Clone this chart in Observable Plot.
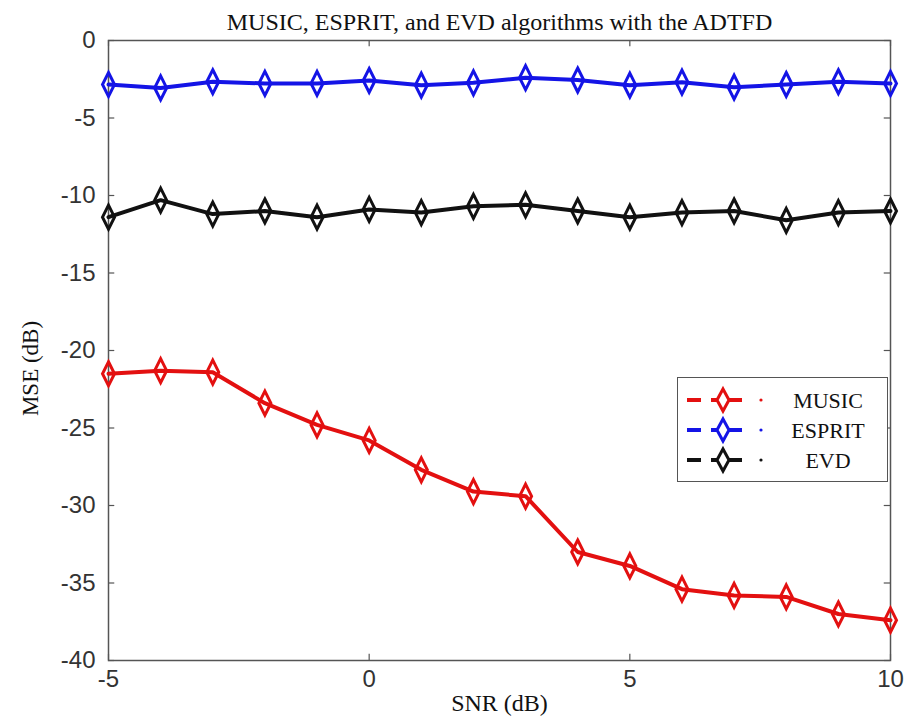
<!DOCTYPE html>
<html>
<head>
<meta charset="utf-8">
<script src="https://cdn.jsdelivr.net/npm/d3@7"></script>
<script src="https://cdn.jsdelivr.net/npm/@observablehq/plot@0.6"></script>
<style>
  html, body { margin: 0; padding: 0; background: #fff; }
  #wrap { position: relative; width: 910px; height: 724px; }
  #legend { position: absolute; background: #fff; border: 1.5px solid #555; box-sizing: border-box; }
</style>
</head>
<body>
<div id="wrap"></div>
<script>
// ---- data ----
const snr = [-5, -4, -3, -2, -1, 0, 1, 2, 3, 4, 5, 6, 7, 8, 9, 10];
const music  = [-21.5, -21.3, -21.4, -23.4, -24.8, -25.8, -27.7, -29.1, -29.4, -33.0, -33.9, -35.4, -35.8, -35.9, -37.0, -37.4];
const esprit = [-2.84, -3.06, -2.66, -2.77, -2.77, -2.58, -2.88, -2.73, -2.40, -2.55, -2.88, -2.69, -3.01, -2.84, -2.66, -2.77];
const evd    = [-11.4, -10.3, -11.2, -11.0, -11.4, -10.9, -11.1, -10.7, -10.6, -11.0, -11.4, -11.1, -11.0, -11.6, -11.1, -11.0];
const seriesNames = ["MUSIC", "ESPRIT", "EVD"];
const seriesColors = ["#e31010", "#1414e6", "#111111"];
const xTicks = [-5, 0, 5, 10];
const yTicks = [0, -5, -10, -15, -20, -25, -30, -35, -40];
const titleText = "MUSIC, ESPRIT, and EVD algorithms with the ADTFD";
const xLabel = "SNR (dB)";
const yLabel = "MSE (dB)";

const table = [];
[music, esprit, evd].forEach((vals, i) =>
  vals.forEach((v, j) => table.push({series: seriesNames[i], snr: snr[j], mse: v})));

// tall diamond symbol
const tallDiamond = {
  draw(ctx) {
    const w = 6, h = 12;
    ctx.moveTo(0, -h); ctx.lineTo(w, 0); ctx.lineTo(0, h); ctx.lineTo(-w, 0); ctx.closePath();
  }
};

const serif = "'Liberation Serif', 'DejaVu Serif', serif";
const sans = "'Liberation Sans', Arial, sans-serif";
const xd = [xTicks[0], xTicks[xTicks.length - 1]];
const yd = [yTicks[yTicks.length - 1], yTicks[0]];
const tx = (xd[1] - xd[0]) * 0.008, ty = (yd[1] - yd[0]) * 0.01;
const fmt = d => String(d);

const chart = Plot.plot({
  width: 910, height: 724,
  marginTop: 40, marginLeft: 108, marginRight: 20, marginBottom: 64,
  style: {background: "#fff", overflow: "visible"},
  x: {domain: xd, ticks: xTicks},
  y: {domain: yd, ticks: yTicks},
  color: {domain: seriesNames, range: seriesColors},
  marks: [
    Plot.axisX({ticks: xTicks, tickFormat: fmt, tickSize: 0, tickPadding: 9, fontSize: 24, fontFamily: sans, fill: "#333", label: null}),
    Plot.axisY({ticks: yTicks, tickFormat: fmt, tickSize: 0, tickPadding: 13, fontSize: 24, fontFamily: sans, fill: "#333", label: null}),
    Plot.ruleX(xTicks, {x: d => d, y1: yd[0], y2: yd[0] + ty, stroke: "#555", strokeWidth: 1.2}),
    Plot.ruleX(xTicks, {x: d => d, y1: yd[1], y2: yd[1] - ty, stroke: "#555", strokeWidth: 1.2}),
    Plot.ruleY(yTicks, {y: d => d, x1: xd[0], x2: xd[0] + tx, stroke: "#555", strokeWidth: 1.2}),
    Plot.ruleY(yTicks, {y: d => d, x1: xd[1], x2: xd[1] - tx, stroke: "#555", strokeWidth: 1.2}),
    Plot.frame({stroke: "#555", strokeWidth: 1.5}),
    Plot.line(table, {x: "snr", y: "mse", stroke: "series", z: "series", strokeWidth: 4}),
    Plot.dot(table, {x: "snr", y: "mse", stroke: "series", symbol: tallDiamond, strokeWidth: 3, fill: "none"}),
    Plot.text([titleText], {frameAnchor: "top", textAnchor: "middle", dy: -28, fontFamily: serif, fontSize: 24, fill: "#111"}),
    Plot.text([xLabel], {frameAnchor: "bottom", textAnchor: "middle", dy: 50, fontFamily: serif, fontSize: 24, fill: "#111"}),
    Plot.text([yLabel], {frameAnchor: "left", textAnchor: "middle", dx: -78, dy: 18, rotate: -90, fontFamily: serif, fontSize: 23, fill: "#111"})
  ]
});
const wrap = document.getElementById("wrap");
wrap.appendChild(chart);

// legend
const legend = document.createElement("div");
legend.id = "legend";
legend.style.left = "677px"; legend.style.top = "377px";
legend.style.width = "211px"; legend.style.height = "105px";
const ns = "http://www.w3.org/2000/svg";
const lsvg = document.createElementNS(ns, "svg");
lsvg.setAttribute("width", 208); lsvg.setAttribute("height", 102);
seriesNames.forEach((name, i) => {
  const cy = 22 + i * 30, col = seriesColors[i];
  const ln = document.createElementNS(ns, "line");
  ln.setAttribute("x1", 9); ln.setAttribute("x2", 64); ln.setAttribute("y1", cy); ln.setAttribute("y2", cy);
  ln.setAttribute("stroke", col); ln.setAttribute("stroke-width", 4); ln.setAttribute("stroke-dasharray", "14 10 40");
  lsvg.appendChild(ln);
  const dm = document.createElementNS(ns, "path");
  dm.setAttribute("d", `M45,${cy-11}L51,${cy}L45,${cy+11}L39,${cy}Z`);
  dm.setAttribute("stroke", col); dm.setAttribute("stroke-width", 3); dm.setAttribute("fill", "#fff");
  lsvg.appendChild(dm);
  const dt = document.createElementNS(ns, "circle");
  dt.setAttribute("cx", 83); dt.setAttribute("cy", cy); dt.setAttribute("r", 1.6); dt.setAttribute("fill", col);
  lsvg.appendChild(dt);
  const t = document.createElementNS(ns, "text");
  t.setAttribute("x", 150); t.setAttribute("y", cy); t.setAttribute("dy", "0.35em");
  t.setAttribute("text-anchor", "middle"); t.setAttribute("font-family", serif); t.setAttribute("font-size", 22);
  t.setAttribute("fill", "#111");
  t.textContent = name;
  lsvg.appendChild(t);
});
legend.appendChild(lsvg);
wrap.appendChild(legend);
</script>
</body>
</html>
